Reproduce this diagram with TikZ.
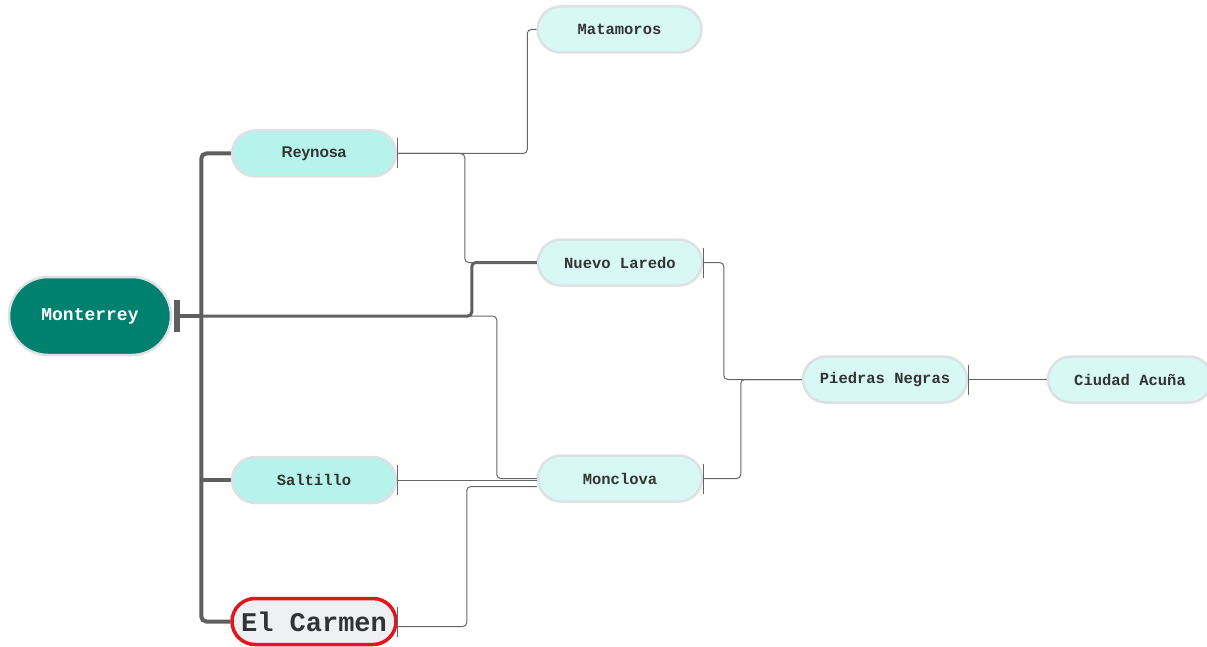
\documentclass[tikz,border=0pt]{standalone}
\usepackage{fontspec}
\setmainfont{Liberation Sans}
\newfontfamily\monof{Liberation Mono}
\newfontfamily\sansf{Liberation Sans}
\definecolor{teal0}{HTML}{00806E}
\definecolor{cyanA}{HTML}{B6F3EB}
\definecolor{cyanB}{HTML}{D8F8F3}
\definecolor{bord}{HTML}{DDE1E6}
\definecolor{txt}{HTML}{333333}
\definecolor{ln}{HTML}{666666}
\definecolor{lnk}{HTML}{5F5F5F}
\definecolor{carfill}{HTML}{EEF0F3}
\definecolor{carred}{HTML}{E0161B}
\tikzset{
  city/.style={draw=bord, line width=2.5pt, fill=cyanB, rectangle, rounded corners=23pt,
    minimum width=164pt, minimum height=46pt, inner sep=0pt, text=txt,
    font=\monof\bfseries\fontsize{15.5}{18}\selectfont},
  cityA/.style={city, fill=cyanA},
  thinline/.style={draw=ln, line width=1pt, rounded corners=4pt},
  thickline/.style={draw=lnk, line width=4pt, rounded corners=5pt},
  midline/.style={draw=lnk, line width=3pt, rounded corners=4pt},
  tickmark/.style={draw=ln, line width=1pt},
}
\begin{document}
\begin{tikzpicture}[x=1pt,y=-1pt]
\useasboundingbox (0,0) rectangle (1207,647);
% nodes
\node[city, fill=teal0, text=white, minimum width=162pt, minimum height=78pt, rounded corners=39pt,
  font=\monof\bfseries\fontsize{18}{20}\selectfont] (mty) at (90,316) {Monterrey};
\node[cityA, font=\sansf\bfseries\fontsize{15.5}{18}\selectfont] (rey) at (314,153.5) {Reynosa};
\node[city] (mat) at (619.5,29.5) {Matamoros};
\node[city] (nlo) at (620,262.5) {Nuevo Laredo};
\node[city] (pne) at (885,379.5) {Piedras Negras};
\node[city] (cac) at (1130,379.5) {Ciudad Acuña};
\node[cityA] (sal) at (314,480) {Saltillo};
\node[city] (mon) at (620,478.5) {Monclova};
\node[city, fill=carfill, draw=carred, line width=3.5pt, font=\monof\bfseries\fontsize{27}{30}\selectfont] (car) at (314,621.5) {El Carmen};
% trunk from Monterrey
\coordinate (tr) at ([xshift=29pt]mty.east);
\draw[thickline, rounded corners=0pt] ([xshift=5pt]mty.east) -- (tr);
\draw[draw=lnk, line width=6pt] ([xshift=5pt,yshift=16pt]mty.east) -- ([xshift=5pt,yshift=-16pt]mty.east);
\draw[thickline] (tr) |- (rey.west);
\draw[thickline] (tr) |- (car.west);
\draw[thickline] (tr |- sal.west) -- (sal.west);
\draw[midline] (tr) -| ([xshift=-65pt]nlo.west) -- (nlo.west);
\draw[thinline] (tr) -| ([xshift=-40pt]mon.west) -- (mon.west);
% other connectors
\draw[thinline] (rey.east) -- ([xshift=130pt]rey.east) |- (mat.west);
\draw[thinline] (rey.east) -| ([xshift=-72pt]nlo.west) -- (nlo.west);
\draw[thinline] (nlo.east) -| ([xshift=-78pt]pne.west) -- (pne.west);
\draw[thinline] (mon.east) -| ([xshift=-61pt]pne.west) -- (pne.west);
\draw[thinline] (pne.east) -- (cac.west);
\draw[thinline] (sal.east) -- (mon.west |- sal.east);
\draw[thinline] ([yshift=-5pt]car.east) -| ([xshift=-70pt,yshift=-8pt]mon.west) -- ([yshift=-8pt]mon.west);
% ticks
\foreach \n in {rey,nlo,pne,mon,sal,car}
  \draw[tickmark] ([yshift=15pt]\n.east) -- ([yshift=-15pt]\n.east);
\end{tikzpicture}
\end{document}
